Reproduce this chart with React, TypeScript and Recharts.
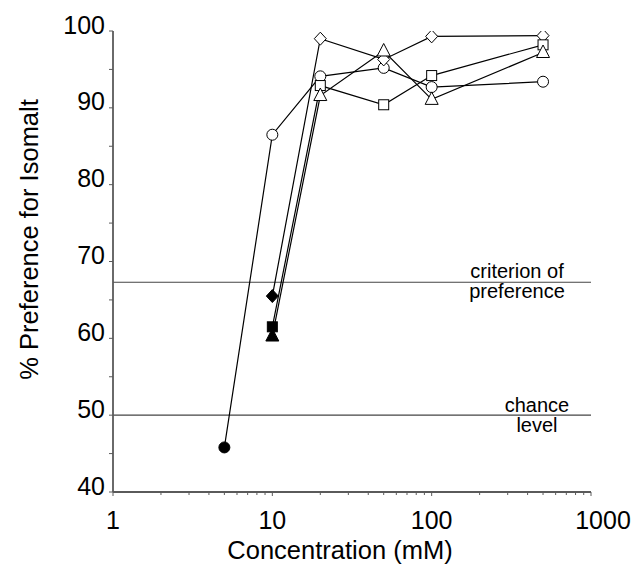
import React from "react"
import {
  LineChart,
  Line,
  XAxis,
  YAxis,
  ReferenceLine,
} from "recharts"

// concentration (mM) and % preference
const CIRCLE_CONC = [5, 10, 20, 50, 100, 500]
const CIRCLE_PREF = [45.8, 86.5, 94.1, 95.2, 92.7, 93.4]
const CONC = [10, 20, 50, 100, 500]
const DIAMOND_PREF = [65.5, 99.0, 96.3, 99.3, 99.4]
const SQUARE_PREF = [61.5, 92.9, 90.4, 94.2, 98.2]
const TRIANGLE_PREF = [60.3, 91.6, 97.4, 91.1, 97.2]

const CRITERION = 67.3
const CHANCE = 50

const X_MAJOR = [1, 10, 100, 1000]
const X_TICKS = [
  1, 2, 3, 4, 5, 6, 7, 8, 9,
  10, 20, 30, 40, 50, 60, 70, 80, 90,
  100, 200, 300, 400, 500, 600, 700, 800, 900,
  1000,
]
const Y_TICKS = [40, 45, 50, 55, 60, 65, 70, 75, 80, 85, 90, 95, 100]

const FONT = "'Liberation Sans', Arial, Helvetica, sans-serif"
const AXIS = "#5a5a5a"

const toRows = (xs: number[], ys: number[]) => xs.map((c, i) => ({ c, p: ys[i] }))

type Shape = "circle" | "diamond" | "square" | "triangle"

function Marker({ cx, cy, payload, shape }: any) {
  if (cx == null || cy == null) return null
  const filled = payload.p < CRITERION
  const fill = filled ? "#000" : "#fff"
  const common = { fill, stroke: "#000", strokeWidth: 1 }
  if (shape === "circle") return <circle cx={cx} cy={cy} r={5.5} {...common} />
  if (shape === "square")
    return <rect x={cx - 5} y={cy - 5} width={10} height={10} {...common} />
  if (shape === "diamond")
    return (
      <path
        d={`M${cx},${cy - 6.5}L${cx + 6},${cy}L${cx},${cy + 6.5}L${cx - 6},${cy}Z`}
        {...common}
      />
    )
  return (
    <path
      d={`M${cx},${cy - 7.5}L${cx + 6.5},${cy + 5}L${cx - 6.5},${cy + 5}Z`}
      {...common}
    />
  )
}

function XTick({ x, y, payload }: any) {
  const major = X_MAJOR.includes(payload.value)
  const last = payload.value === X_MAJOR[X_MAJOR.length - 1]
  return (
    <g>
      <line x1={x} x2={x} y1={y} y2={y + (major ? 4 : 3)} stroke={AXIS} strokeWidth={1} />
      {major && (
        <text
          x={x + (last ? 12 : 0)}
          y={y + 37}
          textAnchor="middle"
          fontFamily={FONT}
          fontSize={25}
          fill="#000"
        >
          {payload.value}
        </text>
      )}
    </g>
  )
}

function YTick({ x, y, payload }: any) {
  const major = payload.value % 10 === 0
  return (
    <g>
      <line x1={x - 4} x2={x} y1={y} y2={y} stroke={AXIS} strokeWidth={1} />
      {major && (
        <text
          x={x - 8}
          y={y + 2.5}
          textAnchor="end"
          fontFamily={FONT}
          fontSize={25}
          fill="#000"
        >
          {payload.value}
        </text>
      )}
    </g>
  )
}

function XTitle({ viewBox }: any) {
  const cx = viewBox.x + viewBox.width / 2 - 12
  return (
    <text x={cx} y={viewBox.y + 67} textAnchor="middle" fontFamily={FONT} fontSize={25.5} fill="#000">
      Concentration (mM)
    </text>
  )
}

function YTitle({ viewBox }: any) {
  const x = viewBox.x + 38
  const y = viewBox.y + viewBox.height / 2 - 22
  return (
    <text
      x={x}
      y={y}
      transform={`rotate(-90, ${x}, ${y})`}
      textAnchor="middle"
      fontFamily={FONT}
      fontSize={25.5}
      fill="#000"
    >
      % Preference for Isomalt
    </text>
  )
}

function TwoLineLabel({ viewBox, lines, inset, above, below }: any) {
  const cx = viewBox.x + viewBox.width - inset
  return (
    <g>
      <text x={cx} y={viewBox.y - above} textAnchor="middle" fontFamily={FONT} fontSize={20} fill="#000">
        {lines[0]}
      </text>
      <text x={cx} y={viewBox.y + below} textAnchor="middle" fontFamily={FONT} fontSize={20} fill="#000">
        {lines[1]}
      </text>
    </g>
  )
}

const series: { shape: Shape; rows: { c: number; p: number }[] }[] = [
  { shape: "circle", rows: toRows(CIRCLE_CONC, CIRCLE_PREF) },
  { shape: "diamond", rows: toRows(CONC, DIAMOND_PREF) },
  { shape: "square", rows: toRows(CONC, SQUARE_PREF) },
  { shape: "triangle", rows: toRows(CONC, TRIANGLE_PREF) },
]

export default function App() {
  return (
    <div style={{ position: "absolute", left: 0, top: 0, background: "#fff" }}>
      <LineChart width={638} height={571} margin={{ top: 31, right: 47, bottom: 0, left: 0 }}>
        <XAxis
          dataKey="c"
          type="number"
          scale="log"
          domain={[1, 1000]}
          ticks={X_TICKS}
          interval={0}
          height={79}
          tickSize={0}
          tickMargin={0}
          tickLine={false}
          axisLine={{ stroke: AXIS, strokeWidth: 1.8 }}
          tick={<XTick />}
          label={<XTitle />}
          allowDataOverflow
        />
        <XAxis
          xAxisId="top"
          orientation="top"
          type="number"
          scale="log"
          domain={[1, 1000]}
          height={0}
          tick={false}
          tickLine={false}
          axisLine={{ stroke: AXIS, strokeWidth: 1.5 }}
        />
        <YAxis
          dataKey="p"
          type="number"
          domain={[40, 100]}
          ticks={Y_TICKS}
          interval={0}
          width={113}
          tickSize={0}
          tickMargin={0}
          tickLine={false}
          axisLine={{ stroke: AXIS, strokeWidth: 1.8 }}
          tick={<YTick />}
          label={<YTitle />}
          allowDataOverflow
        />
        <YAxis
          yAxisId="right"
          orientation="right"
          type="number"
          domain={[40, 100]}
          width={0}
          tick={false}
          tickLine={false}
          axisLine={{ stroke: AXIS, strokeWidth: 1.5 }}
        />
        <ReferenceLine
          y={CRITERION}
          stroke="#444"
          strokeWidth={1.2}
          label={<TwoLineLabel lines={["criterion of", "preference"]} inset={74} above={4} below={16} />}
        />
        <ReferenceLine
          y={CHANCE}
          stroke="#444"
          strokeWidth={1.2}
          label={<TwoLineLabel lines={["chance", "level"]} inset={54} above={3} below={17} />}
        />
        {series.map((s) => (
          <Line
            key={s.shape}
            data={s.rows}
            dataKey="p"
            type="linear"
            stroke="#000"
            strokeWidth={1.2}
            isAnimationActive={false}
            dot={(p: any) => <Marker key={`${s.shape}-${p.index}`} {...p} shape={s.shape} />}
            activeDot={false}
          />
        ))}
      </LineChart>
    </div>
  )
}
